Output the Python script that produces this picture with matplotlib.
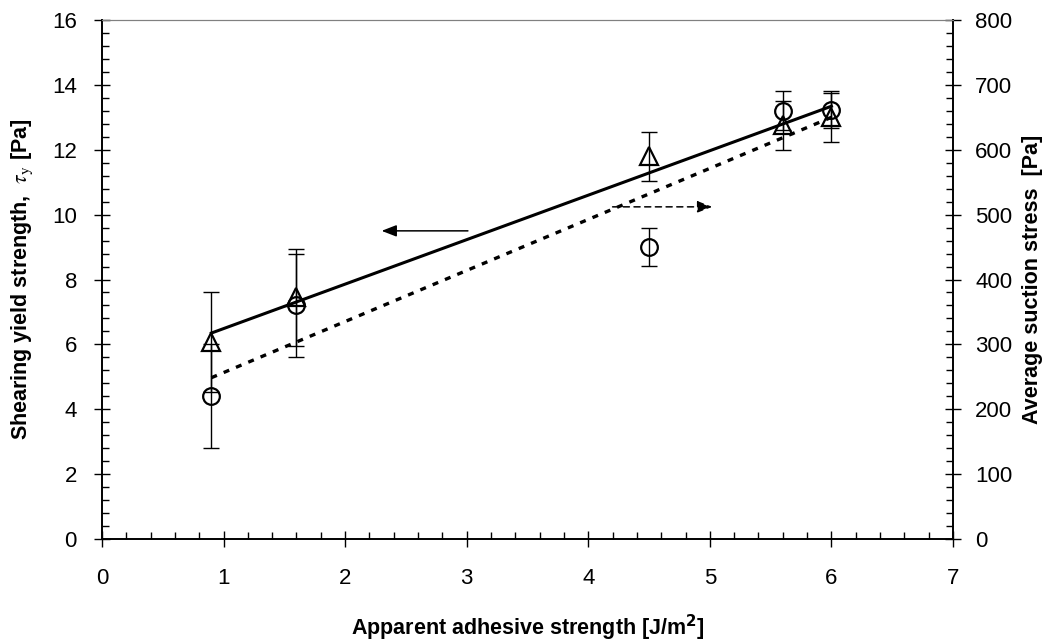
import numpy as np
import matplotlib.pyplot as plt
from matplotlib.ticker import MultipleLocator

plt.rcParams['font.family'] = ['Liberation Sans', 'DejaVu Sans']
plt.rcParams['mathtext.fontset'] = 'dejavusans'

# apparent adhesive strength [J/m2]
x = np.array([0.9, 1.6, 4.5, 5.6, 6.0])

# shearing yield strength (left axis, triangles)
tau_y = np.array([6.08, 7.45, 11.8, 12.75, 13.0])
tau_err = np.array([1.55, 1.5, 0.75, 0.75, 0.75])

# average suction stress (right axis, circles)
suction = np.array([221, 360, 450, 660, 662])
suction_err = np.array([80, 80, 29, 30, 28])

# linear trend lines, as drawn in the original
xf = np.array([x.min(), x.max()])
p_tau = np.polyfit(x, tau_y, 1)
p_suc = np.polyfit(x, suction, 1)

fig = plt.figure(figsize=(10.49, 6.43), dpi=100)
ax = fig.add_axes([0.0972, 0.1617, 0.8113, 0.8072])
ax2 = ax.twinx()

ax.errorbar(x, tau_y, yerr=tau_err, fmt='none', ecolor='black', elinewidth=1,
            capsize=6, capthick=1)
ax.plot(x, tau_y, '^', ms=13.5, mfc='none', mec='black', mew=1.6)
ax.plot(xf, np.polyval(p_tau, xf), '-', color='black', lw=2.2)

ax2.errorbar(x, suction, yerr=suction_err, fmt='none', ecolor='black', elinewidth=1,
             capsize=6, capthick=1)
ax2.plot(x, suction, 'o', ms=12, mfc='none', mec='black', mew=1.6)
ax2.plot(xf, np.polyval(p_suc, xf), color='black', lw=2.4, ls=(0, (1.8, 2.2)))

# arrows pointing to the matching axis
ax.annotate('', xy=(2.3, 9.5), xytext=(3.01, 9.5),
            arrowprops=dict(arrowstyle='-|>,head_length=0.9,head_width=0.35',
                            color='black', lw=1.1, shrinkA=0, shrinkB=0))
ax.annotate('', xy=(5.02, 10.24), xytext=(4.2, 10.24),
            arrowprops=dict(arrowstyle='-|>,head_length=0.9,head_width=0.35',
                            color='black', lw=1.1, ls=(0, (4, 3)),
                            shrinkA=0, shrinkB=0))

ax.set_xlim(0, 7)
ax.set_ylim(0, 16)
ax2.set_ylim(0, 800)

ax.xaxis.set_major_locator(MultipleLocator(1))
ax.xaxis.set_minor_locator(MultipleLocator(0.2))
ax.yaxis.set_major_locator(MultipleLocator(2))
ax.yaxis.set_minor_locator(MultipleLocator(0.4))
ax2.yaxis.set_major_locator(MultipleLocator(100))
ax2.yaxis.set_minor_locator(MultipleLocator(20))

for a in (ax, ax2):
    a.tick_params(which='major', direction='inout', length=12, width=1,
                  labelsize=16, color='black')
    a.tick_params(which='minor', direction='in', length=5, width=1)
ax.tick_params(axis='x', pad=15)
ax.tick_params(axis='y', pad=12)
ax2.tick_params(axis='y', pad=10)

for a in (ax, ax2):
    a.spines['top'].set_color('#808080')
    a.spines['top'].set_linewidth(0.8)
    for s in ('left', 'bottom', 'right'):
        a.spines[s].set_linewidth(1.2)

ax.set_xlabel(r'Apparent adhesive strength [J/m$^\mathbf{2}$]', fontsize=15.5,
              fontweight='bold', va='center')
ax.set_ylabel(r'Shearing yield strength,  $\tau_\mathrm{y}$ [Pa]', fontsize=15.5,
              fontweight='bold', va='center')
ax.yaxis.label.set_math_fontfamily('stix')
ax2.set_ylabel('Average suction stress  [Pa]', fontsize=15.5, fontweight='bold',
               va='center')
ax.xaxis.set_label_coords(0.5, -0.171)
ax.yaxis.set_label_coords(-0.094, 0.5)
ax2.yaxis.set_label_coords(1.093, 0.5)

fig.savefig('out.png', dpi=100)
